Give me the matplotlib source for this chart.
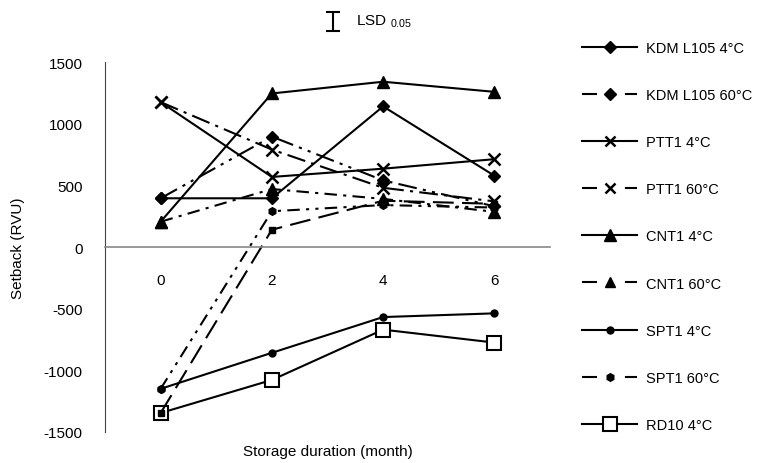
import numpy as np
import matplotlib
matplotlib.use("Agg")
import matplotlib.pyplot as plt
from matplotlib.lines import Line2D

plt.rcParams['font.family'] = ['Liberation Sans', 'DejaVu Sans']
plt.rcParams['font.size'] = 11
plt.rcParams['axes.unicode_minus'] = False

# Dados
months = [0, 2, 4, 6]
kdml_4 = [395, 395, 1140, 578]
kdml_60 = [395, 895, 540, 330]
ptt_4 = [1175, 568, 635, 712]
ptt_60 = [1175, 790, 480, 370]
cnt_4 = [205, 1245, 1340, 1258]
cnt_60 = [205, 470, 390, 285]
spt_4 = [-1150, -858, -568, -538]
spt_60 = [-1150, 290, 340, 320]
rd10_4 = [-1346, -1078, -670, -775]
rd10_60 = [-1346, 140, 375, 350]

labels = ['KDM L105 4°C', 'KDM L105 60°C', 'PTT1 4°C', 'PTT1 60°C', 'CNT1 4°C',
          'CNT1 60°C', 'SPT1 4°C', 'SPT1 60°C', 'RD10 4°C']

fig = plt.figure(figsize=(7.65, 4.64), dpi=100)
ax = fig.add_axes([105/765, 1 - 433/464, 445/765, 370/464])

lw = 1.5
ax.plot(months, kdml_4, '-', color='k', lw=lw, marker='D', ms=6.5)
ax.plot(months, kdml_60, color='k', lw=lw, marker='D', ms=6.5, dashes=(9, 3, 1.5, 3, 1.5, 3))
ax.plot(months, ptt_4, '-', color='k', lw=lw, marker='x', ms=8, mew=1.8)
ax.plot(months, ptt_60, color='k', lw=lw, marker='x', ms=8, mew=1.8, dashes=(9, 3, 1.5, 3))
ax.plot(months, cnt_4, '-', color='k', lw=lw, marker='^', ms=8)
ax.plot(months, cnt_60, color='k', lw=lw, marker='^', ms=8, dashes=(6, 3, 1.5, 3))
ax.plot(months, spt_4, '-', color='k', lw=lw, marker='o', ms=5)
ax.plot(months, spt_60, color='k', lw=lw, marker='h', ms=5.5, dashes=(6, 3, 1.5, 3, 1.5, 3))
ax.plot(months, rd10_4, '-', color='k', lw=lw, marker='s', ms=9.5, mfc='white', mew=1.5)
ax.plot(months, rd10_60, color='k', lw=lw, marker='s', ms=5, dashes=(10, 4))

ax.set_xlim(-1, 7)
ax.set_ylim(-1500, 1500)
ax.set_xticks(months)
ax.set_yticks([-1500, -1000, -500, 0, 500, 1000, 1500])

# Eixos estilo Excel
ax.spines['top'].set_visible(False)
ax.spines['right'].set_visible(False)
ax.spines['bottom'].set_position(('data', 0))
ax.spines['bottom'].set_color('#888888')
ax.spines['bottom'].set_linewidth(1.2)
ax.spines['left'].set_color('#444444')
ax.spines['left'].set_linewidth(0.8)
ax.tick_params(axis='x', length=0, pad=19)
ax.tick_params(axis='y', length=0, pad=16)

fig.text(328/765, 1 - 452/464, 'Storage duration (month)', ha='center', va='center', fontsize=11)
fig.text(18/765, 1 - 248/464, 'Setback (RVU)', ha='center', va='center', rotation=90, fontsize=11)

# Barra LSD
ax.errorbar([3.1], [1830], yerr=[75], fmt='none', ecolor='k', elinewidth=1.5,
            capsize=5, capthick=1.5, clip_on=False)
fig.text(356/765, 1 - 22/464, r'LSD $_{\mathregular{0.05}}$', ha='left', va='center', fontsize=11)

# Legenda (tracejado simples como no original)
leg_dash = (7.2, 13.4)
handles = [
    Line2D([], [], color='k', lw=lw, marker='D', ms=6),
    Line2D([], [], color='k', lw=lw, marker='D', ms=6, dashes=leg_dash),
    Line2D([], [], color='k', lw=lw, marker='x', ms=7, mew=1.8),
    Line2D([], [], color='k', lw=lw, marker='x', ms=7, mew=1.8, dashes=leg_dash),
    Line2D([], [], color='k', lw=lw, marker='^', ms=8),
    Line2D([], [], color='k', lw=lw, marker='^', ms=7, dashes=leg_dash),
    Line2D([], [], color='k', lw=lw, marker='o', ms=5),
    Line2D([], [], color='k', lw=lw, marker='h', ms=5.5, dashes=leg_dash),
    Line2D([], [], color='k', lw=lw, marker='s', ms=10, mfc='white', mew=1.5),
]
ax.legend(handles, labels, loc='upper left', bbox_to_anchor=(582/765, 1 - 42/464),
          bbox_transform=fig.transFigure, frameon=False, handlelength=3.8,
          handletextpad=0.6, labelspacing=2.27, borderpad=0, borderaxespad=0, fontsize=10.5)

fig.savefig('out.png', dpi=100)
